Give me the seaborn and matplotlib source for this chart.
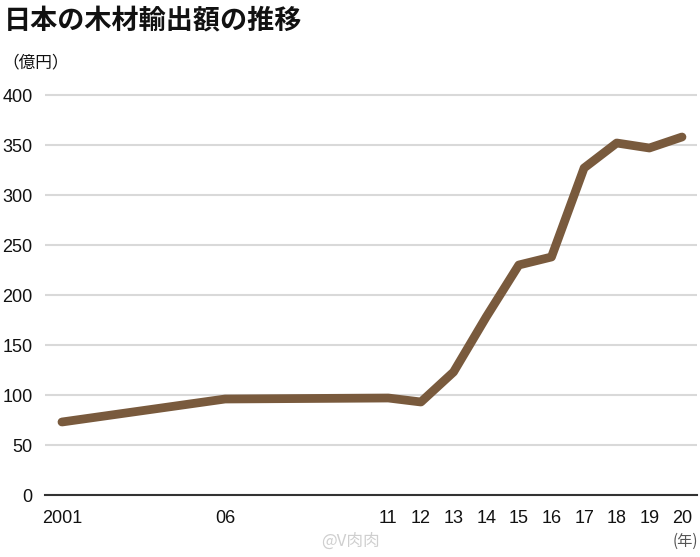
import matplotlib
matplotlib.use("Agg")
from matplotlib import pyplot as plt
import pandas as pd
import seaborn as sns

years = [2001, 2006, 2011, 2012, 2013, 2014, 2015, 2016, 2017, 2018, 2019, 2020]
export_value = [73, 96, 97, 93, 123, 178, 230, 238, 327, 352, 347, 358]
tick_labels = ["2001", "06", "11", "12", "13", "14", "15", "16", "17", "18", "19", "20"]
y_ticks = [0, 50, 100, 150, 200, 250, 300, 350, 400]

df = pd.DataFrame({"year": years, "value": export_value})

sns.set_style("white")
plt.rcParams["font.family"] = ["Liberation Sans", "Noto Sans CJK JP", "DejaVu Sans"]
jp = ["Noto Sans CJK JP", "DejaVu Sans"]

fig = plt.figure(figsize=(7, 5.57), dpi=100)
ax = fig.add_axes([45 / 700, 1 - 495 / 557, 652 / 700, 403 / 557])

sns.lineplot(data=df, x="year", y="value", ax=ax, color="#795a3d",
             linewidth=6.3, solid_joinstyle="round", solid_capstyle="round", zorder=3)

ax.set_xlim(2000.48, 2020.46)
ax.set_ylim(0, 403)
ax.set_yticks(y_ticks)
ax.set_xticks(years)
ax.set_xticklabels(tick_labels)
ax.yaxis.grid(True, color="#d9d9d9", linewidth=1.5)
ax.set_axisbelow(True)
for s in ["top", "right", "left"]:
    ax.spines[s].set_visible(False)
ax.spines["bottom"].set_color("#333333")
ax.spines["bottom"].set_linewidth(1.5)
ax.tick_params(axis="y", length=0, pad=9, labelsize=13, labelcolor="#111111")
ax.tick_params(axis="x", direction="in", length=8, color="#c8c8c8", width=1,
               pad=11, labelsize=13, labelcolor="#111111")
ax.set_xlabel("")
ax.set_ylabel("")

fig.text(4 / 700, 1 - 20 / 557, "日本の木材輸出額の推移", fontsize=19.5,
         fontweight="bold", va="center", ha="left", family=jp, color="#111111")
fig.text(2 / 700, 1 - 63 / 557, "（億円）", fontsize=12, va="center", ha="left",
         family=jp, color="#111111")
fig.text(698 / 700, 1 - 541 / 557, "(年)", fontsize=11, va="center", ha="right",
         color="#555555", family=jp)
fig.text(350 / 700, 1 - 541 / 557, "@V肉肉", fontsize=12, va="center",
         ha="center", color="#cfcfcf", family=jp)

fig.savefig("out.png", dpi=100)
